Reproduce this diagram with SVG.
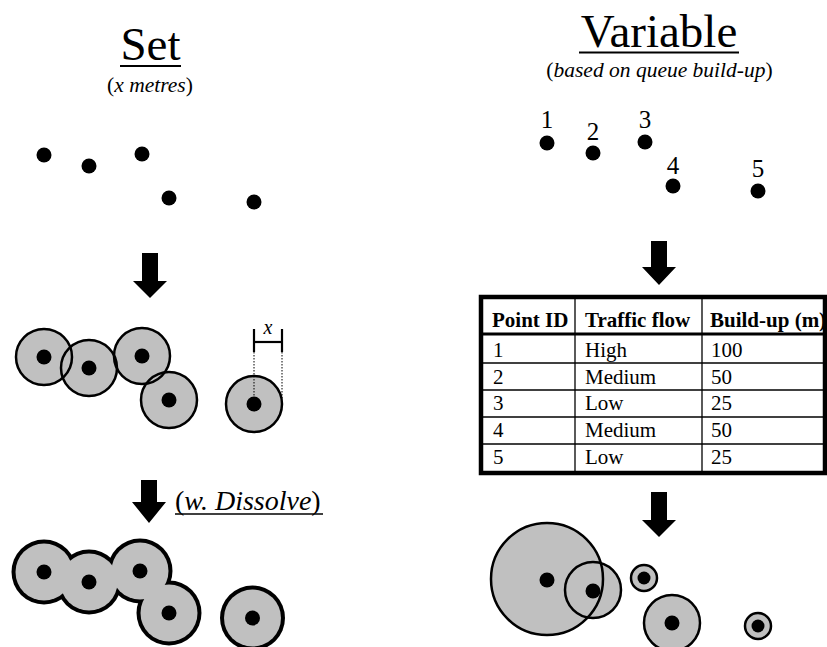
<svg xmlns="http://www.w3.org/2000/svg" width="827" height="647" viewBox="0 0 827 647">
  <style>
    text { font-family: "Liberation Serif", "Times New Roman", serif; fill: #000; }
    .title { font-size: 47px; text-anchor: middle; }
    .sub { font-size: 21.5px; text-anchor: middle; }
    .num { font-size: 25px; text-anchor: middle; }
    .it { font-style: italic; }
    .th { font-size: 21px; font-weight: bold; }
    .td { font-size: 21px; }
    .dot { fill: #000; }
    .buf { fill: #c0c0c0; }
    .ring { fill: none; stroke: #000; stroke-width: 2.5; }
    .arrow { fill: #000; }
    .rule { stroke: #000; stroke-width: 2.2; }
    .grid { stroke: #000; stroke-width: 1.3; }
  </style>

  <!-- Left column: fixed buffer distance -->
  <g id="set-title">
    <text class="title" x="150.5" y="60">Set</text>
    <line class="rule" x1="120" y1="66" x2="181" y2="66"/>
    <text class="sub" x="150" y="92">(<tspan class="it">x metres</tspan>)</text>
  </g>

  <g id="set-points">
    <circle class="dot" cx="44" cy="155" r="7.5"/>
    <circle class="dot" cx="89" cy="166" r="7.5"/>
    <circle class="dot" cx="142" cy="154" r="7.5"/>
    <circle class="dot" cx="169" cy="198" r="7.5"/>
    <circle class="dot" cx="254" cy="202" r="7.5"/>
  </g>

  <g id="set-buffers">
    <g class="buf">
      <circle cx="44" cy="357" r="28"/>
      <circle cx="89" cy="368" r="28"/>
      <circle cx="142" cy="356" r="28"/>
      <circle cx="169" cy="400" r="28"/>
      <circle cx="254" cy="404" r="28"/>
    </g>
    <g class="ring">
      <circle cx="44" cy="357" r="28"/>
      <circle cx="89" cy="368" r="28"/>
      <circle cx="142" cy="356" r="28"/>
      <circle cx="169" cy="400" r="28"/>
      <circle cx="254" cy="404" r="28"/>
    </g>
    <circle class="dot" cx="44" cy="357" r="7.5"/>
    <circle class="dot" cx="89" cy="368" r="7.5"/>
    <circle class="dot" cx="142" cy="356" r="7.5"/>
    <circle class="dot" cx="169" cy="400" r="7.5"/>
    <circle class="dot" cx="254" cy="404" r="7.5"/>
  </g>

  <g id="radius-dimension">
    <line class="rule" x1="254" y1="329" x2="254" y2="352"/>
    <line class="rule" x1="282" y1="329" x2="282" y2="352"/>
    <line class="rule" x1="254" y1="342" x2="282" y2="342"/>
    <line x1="254" y1="352" x2="254" y2="404" stroke="#000" stroke-width="1" stroke-dasharray="1.5 1.5"/>
    <line x1="282" y1="352" x2="282" y2="398" stroke="#000" stroke-width="1" stroke-dasharray="1.5 1.5"/>
    <text class="it" x="268" y="334" font-size="20px" text-anchor="middle">x</text>
  </g>

  <g id="dissolve-label">
    <text x="175" y="510" font-size="28px">(<tspan class="it">w. Dissolve</tspan>)</text>
    <line x1="175" y1="514" x2="323" y2="514" stroke="#000" stroke-width="1.3"/>
  </g>

  <g id="set-dissolved">
    <!-- outline: enlarged black discs, then gray discs on top -->
    <g fill="#000">
      <circle cx="44" cy="572" r="32.5"/>
      <circle cx="89" cy="582" r="32.5"/>
      <circle cx="140" cy="571" r="32.5"/>
      <circle cx="169" cy="613" r="32.5"/>
      <circle cx="252.5" cy="618" r="32.5"/>
    </g>
    <g class="buf">
      <circle cx="44" cy="572" r="28.5"/>
      <circle cx="89" cy="582" r="28.5"/>
      <circle cx="140" cy="571" r="28.5"/>
      <circle cx="169" cy="613" r="28.5"/>
      <circle cx="252.5" cy="618" r="28.5"/>
    </g>
    <circle class="dot" cx="44" cy="572" r="7.5"/>
    <circle class="dot" cx="89" cy="582" r="7.5"/>
    <circle class="dot" cx="140" cy="571" r="7.5"/>
    <circle class="dot" cx="169" cy="613" r="7.5"/>
    <circle class="dot" cx="252.5" cy="618" r="7.5"/>
  </g>

  <!-- Right column: variable buffer distance -->
  <g id="variable-title">
    <text class="title" x="659" y="47">Variable</text>
    <line class="rule" x1="579" y1="52.5" x2="739" y2="52.5"/>
    <text class="sub" x="659.5" y="77" font-size="22px">(<tspan class="it">based on queue build-up</tspan>)</text>
  </g>

  <g id="variable-points">
    <text class="num" x="547" y="128">1</text>
    <text class="num" x="593" y="140">2</text>
    <text class="num" x="645" y="128">3</text>
    <text class="num" x="673" y="174">4</text>
    <text class="num" x="758" y="177">5</text>
    <circle class="dot" cx="547" cy="143" r="7.5"/>
    <circle class="dot" cx="593" cy="153" r="7.5"/>
    <circle class="dot" cx="645" cy="142" r="7.5"/>
    <circle class="dot" cx="673" cy="186" r="7.5"/>
    <circle class="dot" cx="758" cy="191" r="7.5"/>
  </g>

  <g id="attribute-table">
    <rect x="481" y="297" width="344" height="176" fill="#fff" stroke="#000" stroke-width="4.5"/>
    <line x1="481" y1="334" x2="825" y2="334" stroke="#000" stroke-width="3"/>
    <line class="grid" x1="481" y1="363" x2="825" y2="363"/>
    <line class="grid" x1="481" y1="390" x2="825" y2="390"/>
    <line class="grid" x1="481" y1="417" x2="825" y2="417"/>
    <line class="grid" x1="481" y1="444" x2="825" y2="444"/>
    <line class="grid" x1="575" y1="297" x2="575" y2="473"/>
    <line class="grid" x1="702" y1="297" x2="702" y2="473"/>
    <text class="th" x="492" y="327">Point ID</text>
    <text class="th" x="585" y="327">Traffic flow</text>
    <text class="th" x="710" y="327">Build-up (m)</text>
    <text class="td" x="493" y="357">1</text>
    <text class="td" x="585" y="357">High</text>
    <text class="td" x="711" y="357">100</text>
    <text class="td" x="493" y="384">2</text>
    <text class="td" x="585" y="384">Medium</text>
    <text class="td" x="711" y="384">50</text>
    <text class="td" x="493" y="410">3</text>
    <text class="td" x="585" y="410">Low</text>
    <text class="td" x="711" y="410">25</text>
    <text class="td" x="493" y="437">4</text>
    <text class="td" x="585" y="437">Medium</text>
    <text class="td" x="711" y="437">50</text>
    <text class="td" x="493" y="464">5</text>
    <text class="td" x="585" y="464">Low</text>
    <text class="td" x="711" y="464">25</text>
  </g>

  <g id="variable-buffers">
    <g class="buf">
      <circle cx="547" cy="579" r="56"/>
      <circle cx="593" cy="590" r="28"/>
      <circle cx="644" cy="578" r="13"/>
      <circle cx="672" cy="623" r="28"/>
      <circle cx="758" cy="626" r="13"/>
    </g>
    <g class="ring">
      <circle cx="547" cy="579" r="56"/>
      <circle cx="593" cy="590" r="28"/>
      <circle cx="644" cy="578" r="13"/>
      <circle cx="672" cy="623" r="28"/>
      <circle cx="758" cy="626" r="13"/>
    </g>
    <circle class="dot" cx="547" cy="580" r="7.5"/>
    <circle class="dot" cx="593" cy="591" r="7.5"/>
    <circle class="dot" cx="644" cy="578" r="6.5"/>
    <circle class="dot" cx="672" cy="623" r="7.5"/>
    <circle class="dot" cx="758" cy="626" r="6.5"/>
  </g>

  <!-- Process arrows -->
  <g id="connectors">
    <path class="arrow" d="M142 253 H158 V281 H167 L150 298 L133 281 H142 Z"/>
    <path class="arrow" d="M651 241 H667 V267 H676 L659 285 L642 267 H651 Z"/>
    <path class="arrow" d="M141 480 H157 V502 H166 L149 523 L132 502 H141 Z"/>
    <path class="arrow" d="M651 492 H667 V520 H676 L659 537 L642 520 H651 Z"/>
  </g>
</svg>
